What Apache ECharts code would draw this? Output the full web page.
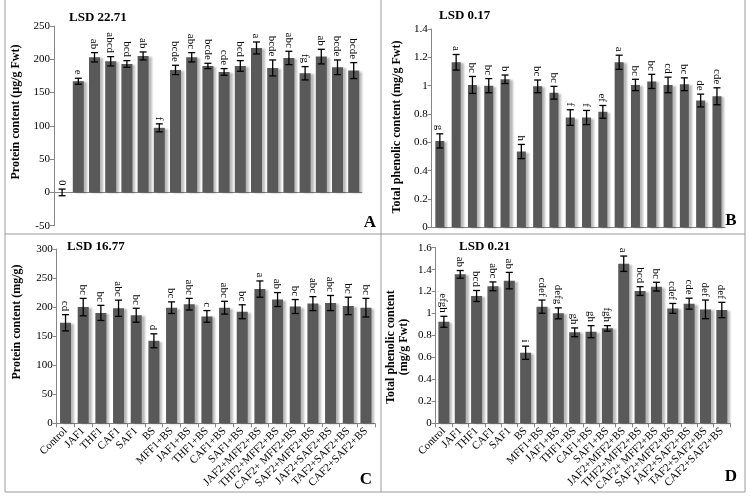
<!DOCTYPE html>
<html>
<head>
<meta charset="utf-8">
<script src="https://cdn.jsdelivr.net/npm/echarts@6/dist/echarts.min.js"></script>
<style>
html,body{margin:0;padding:0;background:#fff;}
#chart{width:750px;height:498px;}
</style>
</head>
<body>
<div id="chart"></div>
<script>
// ---- Data ----
const categories = ['Control','JAF1','THF1','CAF1','SAF1','BS','MFF1+BS','JAF1+BS','THF1+BS','CAF1+BS','SAF1+BS','JAF2+MFF2+BS','THF2+MFF2+BS','CAF2+ MFF2+BS','SAF2+MFF2+BS','JAF2+SAF2+BS','TAF2+SAF2+BS','CAF2+SAF2+BS'];
const categoriesA = [''].concat(categories);

// Panel A: Protein content (µg/g Fwt)
const valuesA = [0, 167, 203, 197, 193, 205, 97, 184, 203, 190, 181, 190, 217, 187, 202, 179, 204, 188, 183];
const errorsA = [5, 4.5, 7, 7, 5, 6, 6, 7, 7, 4, 5, 8, 9, 12, 10, 10, 11, 11, 12];
const lettersA = ['0','e','ab','abcd','bcd','ab','f','bcde','abc','bcde','cde','bcd','a','bcde','abc','fg','ab','bcde','bcde'];

// Panel B: Total phenolic content (mg/g Fwt)
const valuesB = [0.61, 1.165, 1.005, 1.0, 1.045, 0.535, 0.995, 0.95, 0.775, 0.775, 0.815, 1.165, 1.005, 1.03, 1.005, 1.01, 0.895, 0.925];
const errorsB = [0.05, 0.055, 0.06, 0.05, 0.03, 0.05, 0.045, 0.045, 0.055, 0.05, 0.045, 0.05, 0.04, 0.05, 0.055, 0.045, 0.045, 0.06];
const lettersB = ['g','a','bc','bc','b','h','bc','bc','f','f','ef','a','bc','bc','cd','bc','de','cde'];

// Panel C: Protein content (mg/g)
const valuesC = [173, 200, 190, 198, 186, 142, 199, 205, 184, 199, 192, 231, 213, 201, 206, 207, 202, 199];
const errorsC = [14, 15, 13, 14, 12, 12, 10, 10, 10, 11, 12, 14, 12, 12, 12, 13, 15, 16];
const lettersC = ['cd','bc','bc','abc','bc','d','bc','abc','c','abc','bc','a','ab','bc','abc','abc','bc','bc'];

// Panel D: Total phenolic content (mg/g Fwt)
const valuesD = [0.925, 1.357, 1.16, 1.248, 1.30, 0.643, 1.063, 1.002, 0.829, 0.835, 0.865, 1.454, 1.205, 1.245, 1.047, 1.09, 1.038, 1.032];
const errorsD = [0.05, 0.035, 0.05, 0.04, 0.075, 0.06, 0.06, 0.05, 0.04, 0.055, 0.025, 0.07, 0.04, 0.04, 0.045, 0.05, 0.085, 0.07];
const lettersD = ['efgh','ab','bcd','abc','ab','i','cdef','defg','gh','gh','fgh','a','bcd','bc','cdef','cde','def','def'];

const lsdTexts = ['LSD 22.71','LSD 0.17','LSD 16.77','LSD 0.21'];
const panelLetters = ['A','B','C','D'];
const yNames = ['Protein content (µg/g Fwt)','Total phenolic content (mg/g Fwt)','Protein content (mg/g)','Total phenolic content\n(mg/g Fwt)'];

// ---- Chart ----
const FONT = '"Liberation Serif", "Times New Roman", serif';
const AXIS_COLOR = '#868686';
const BAR_COLOR = '#595959';

const chart = echarts.init(document.getElementById('chart'), null, {renderer: 'canvas'});

const grids = [
  {left: 54, top: 26, width: 19 * 16.2, height: 199.7},
  {left: 431.7, top: 29, width: 18 * 16.3, height: 198.3},
  {left: 56.7, top: 249, width: 18 * 17.67, height: 174.3},
  {left: 435.7, top: 247.7, width: 18 * 16.35, height: 175.6}
];
const yRanges = [
  {min: -50, max: 250, interval: 50},
  {min: 0, max: 1.4, interval: 0.2},
  {min: 0, max: 300, interval: 50},
  {min: 0, max: 1.6, interval: 0.2}
];
const panels = [
  {cats: categoriesA, vals: valuesA, errs: errorsA, letters: lettersA, barWidth: 11, showX: false},
  {cats: categories, vals: valuesB, errs: errorsB, letters: lettersB, barWidth: 9, showX: false},
  {cats: categories, vals: valuesC, errs: errorsC, letters: lettersC, barWidth: 11, showX: true},
  {cats: categories, vals: valuesD, errs: errorsD, letters: lettersD, barWidth: 11, showX: true}
];

function errRender(letters) {
  return function (params, api) {
    const i = api.value(0);
    const v = api.value(1);
    const e = api.value(2);
    const top = api.coord([i, v + e]);
    const bot = api.coord([i, v - e]);
    const cap = 3.5;
    const ls = {stroke: '#000', lineWidth: 1.3};
    return {
      type: 'group',
      children: [
        {type: 'line', shape: {x1: top[0], y1: top[1], x2: bot[0], y2: bot[1]}, style: ls},
        {type: 'line', shape: {x1: top[0] - cap, y1: top[1], x2: top[0] + cap, y2: top[1]}, style: ls},
        {type: 'line', shape: {x1: bot[0] - cap, y1: bot[1], x2: bot[0] + cap, y2: bot[1]}, style: ls},
        {type: 'text', x: top[0] - 0.5, y: top[1] - 3.5, rotation: -Math.PI / 2,
          style: {text: letters[params.dataIndex], x: 0, y: 0, align: 'right', verticalAlign: 'middle',
            font: '11px ' + FONT, fill: '#000'}}
      ]
    };
  };
}

const xAxis = [], yAxis = [], series = [];
panels.forEach((p, k) => {
  xAxis.push({
    type: 'category', gridIndex: k, data: p.cats,
    axisLine: {show: true, onZero: true, lineStyle: {color: AXIS_COLOR, width: 1}},
    axisTick: {show: p.showX, alignWithLabel: false, length: 4, lineStyle: {color: AXIS_COLOR}},
    axisLabel: {show: p.showX, rotate: 45, interval: 0, margin: 6, fontFamily: FONT, fontSize: 11, color: '#000'},
    splitLine: {show: false}
  });
  yAxis.push({
    type: 'value', gridIndex: k, min: yRanges[k].min, max: yRanges[k].max, interval: yRanges[k].interval,
    axisLine: {show: true, lineStyle: {color: AXIS_COLOR, width: 1}},
    axisTick: {show: true, length: 4, lineStyle: {color: AXIS_COLOR}},
    axisLabel: {margin: 4, fontFamily: FONT, fontSize: 11, color: '#000'},
    splitLine: {show: false}
  });
  series.push({
    type: 'bar', xAxisIndex: k, yAxisIndex: k, data: p.vals, barWidth: p.barWidth,
    itemStyle: {color: BAR_COLOR, shadowColor: 'rgba(0,0,0,0.28)', shadowBlur: 2, shadowOffsetX: 3, shadowOffsetY: 1},
    silent: true
  });
  series.push({
    type: 'custom', xAxisIndex: k, yAxisIndex: k, z: 5,
    data: p.vals.map((v, i) => [i, v, p.errs[i]]),
    renderItem: errRender(p.letters), silent: true
  });
});

const BORDER = '#9a9a9a';
const graphic = [
  {type: 'line', shape: {x1: 5, y1: 0, x2: 5, y2: 492}, style: {stroke: BORDER, lineWidth: 1}},
  {type: 'line', shape: {x1: 381, y1: 0, x2: 381, y2: 492}, style: {stroke: BORDER, lineWidth: 1}},
  {type: 'line', shape: {x1: 745, y1: 0, x2: 745, y2: 492}, style: {stroke: BORDER, lineWidth: 1}},
  {type: 'line', shape: {x1: 5, y1: 234, x2: 745, y2: 234}, style: {stroke: BORDER, lineWidth: 1}},
  {type: 'line', shape: {x1: 5, y1: 492, x2: 745, y2: 492}, style: {stroke: BORDER, lineWidth: 1}},
  // LSD texts
  {type: 'text', x: 69, y: 18, style: {text: lsdTexts[0], font: 'bold 13px ' + FONT, fill: '#000', verticalAlign: 'middle'}},
  {type: 'text', x: 439, y: 16, style: {text: lsdTexts[1], font: 'bold 13px ' + FONT, fill: '#000', verticalAlign: 'middle'}},
  {type: 'text', x: 67, y: 247, style: {text: lsdTexts[2], font: 'bold 13px ' + FONT, fill: '#000', verticalAlign: 'middle'}},
  {type: 'text', x: 459, y: 247, style: {text: lsdTexts[3], font: 'bold 13px ' + FONT, fill: '#000', verticalAlign: 'middle'}},
  // panel letters
  {type: 'text', x: 370, y: 223, style: {text: panelLetters[0], font: 'bold 17px ' + FONT, fill: '#000', align: 'center', verticalAlign: 'middle'}},
  {type: 'text', x: 731, y: 221, style: {text: panelLetters[1], font: 'bold 17px ' + FONT, fill: '#000', align: 'center', verticalAlign: 'middle'}},
  {type: 'text', x: 366, y: 480, style: {text: panelLetters[2], font: 'bold 17px ' + FONT, fill: '#000', align: 'center', verticalAlign: 'middle'}},
  {type: 'text', x: 731, y: 477, style: {text: panelLetters[3], font: 'bold 17px ' + FONT, fill: '#000', align: 'center', verticalAlign: 'middle'}},
  // y axis names
  {type: 'text', x: 16, y: 112, rotation: Math.PI / 2, style: {text: yNames[0], font: 'bold 12px ' + FONT, fill: '#000', align: 'center', verticalAlign: 'middle'}},
  {type: 'text', x: 397, y: 127, rotation: Math.PI / 2, style: {text: yNames[1], font: 'bold 12px ' + FONT, fill: '#000', align: 'center', verticalAlign: 'middle'}},
  {type: 'text', x: 17, y: 322, rotation: Math.PI / 2, style: {text: yNames[2], font: 'bold 12px ' + FONT, fill: '#000', align: 'center', verticalAlign: 'middle'}},
  {type: 'text', x: 397.5, y: 347, rotation: Math.PI / 2, style: {text: yNames[3], font: 'bold 12px ' + FONT, fill: '#000', align: 'center', verticalAlign: 'middle', lineHeight: 12.5}}
];

chart.setOption({
  animation: false,
  backgroundColor: '#fff',
  grid: grids.map(g => Object.assign({containLabel: false}, g)),
  xAxis: xAxis,
  yAxis: yAxis,
  series: series,
  graphic: graphic
});
</script>
</body>
</html>
